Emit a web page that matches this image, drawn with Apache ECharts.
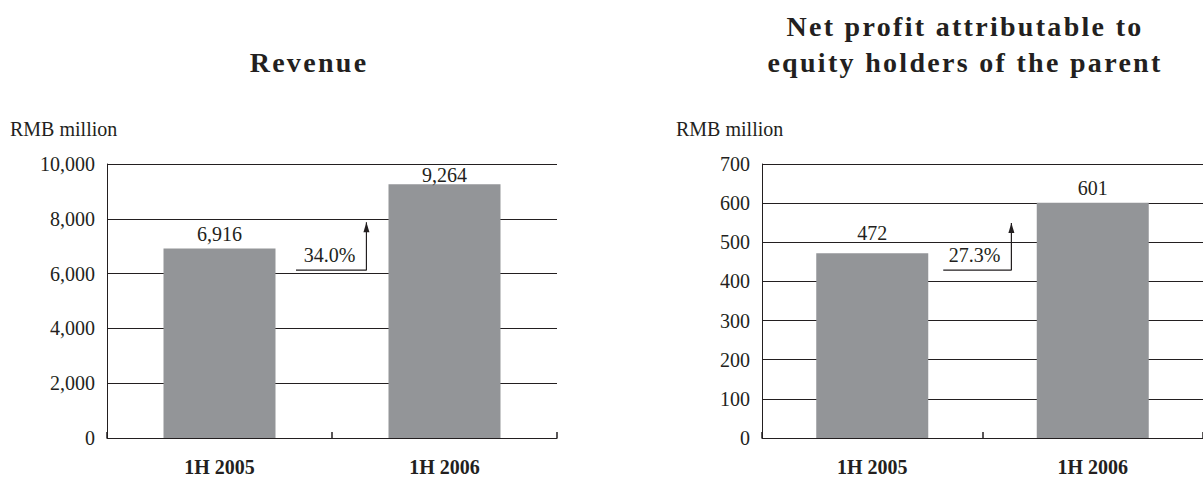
<!DOCTYPE html>
<html>
<head>
<meta charset="utf-8">
<script src="https://cdn.jsdelivr.net/npm/echarts@6/dist/echarts.min.js"></script>
<style>
  html, body { margin: 0; padding: 0; background: #fff; }
  #chart { width: 1203px; height: 477px; }
</style>
</head>
<body>
<div id="chart"></div>
<script>
// data
const categories = ['1H 2005', '1H 2006'];
const revenue = [6916, 9264];
const netProfit = [472, 601];
const revenueTicks = [0, 2000, 4000, 6000, 8000, 10000];
const profitTicks = [0, 100, 200, 300, 400, 500, 600, 700];
const growthText = ['34.0%', '27.3%'];
// growth arrows, in [category position, value] (0..2 spans both categories)
const revenueArrow = [[0.84, 6130], [1.153, 6130], [1.153, 7870]];
const profitArrow = [[0.822, 429], [1.131, 429], [1.131, 549]];

const FONT = 'Liberation Serif, Times New Roman, serif';
const INK = '#231f20';
const BAR = '#939598';
const TITLES = ['Revenue', 'Net profit attributable to', 'equity holders of the parent'];

const fmt = v => Number(v).toLocaleString('en-US');

function valueAxis(grid, ticks) {
  return {
    type: 'value',
    gridIndex: grid,
    min: ticks[0],
    max: ticks[ticks.length - 1],
    interval: ticks[1] - ticks[0],
    axisLine: { show: true, lineStyle: { color: INK, width: 1 } },
    axisTick: { show: false },
    axisLabel: { color: INK, fontFamily: FONT, fontSize: 20, margin: 12, formatter: fmt },
    splitLine: { show: true, lineStyle: { color: INK, width: 1 } }
  };
}

function catAxis(grid) {
  return {
    type: 'category',
    gridIndex: grid,
    data: categories,
    axisLine: { show: true, lineStyle: { color: INK, width: 1.2 } },
    axisTick: { show: true, inside: true, length: 6, lineStyle: { color: INK, width: 1.5 } },
    axisLabel: { color: INK, fontFamily: FONT, fontSize: 20, fontWeight: 'bold', margin: 19 }
  };
}

function helperAxis(grid) {
  return { type: 'value', gridIndex: grid, min: 0, max: 2, show: false };
}

// labelGap: space between each bar top and its value label
function bars(idx, values, labelGap) {
  return {
    type: 'bar',
    xAxisIndex: idx,
    yAxisIndex: idx,
    barWidth: 112,
    itemStyle: { color: BAR },
    label: {
      show: true, position: 'top',
      color: INK, fontFamily: FONT, fontSize: 20,
      formatter: p => fmt(p.value)
    },
    data: values.map((v, i) => ({ value: v, label: { distance: labelGap[i] } }))
  };
}

function arrow(axisIdx, yIdx, pts) {
  return {
    type: 'line',
    xAxisIndex: axisIdx,
    yAxisIndex: yIdx,
    z: 5,
    lineStyle: { color: INK, width: 1.2 },
    itemStyle: { color: INK, opacity: 1 },
    data: pts.map((p, i) => i === pts.length - 1
      ? { value: p, symbol: 'triangle', symbolSize: [6, 10], symbolOffset: [0, 5] }
      : { value: p, symbol: 'none' })
  };
}

function growthLabel(axisIdx, yIdx, pts, text) {
  return {
    type: 'scatter',
    xAxisIndex: axisIdx,
    yAxisIndex: yIdx,
    z: 6,
    symbolSize: 0,
    itemStyle: { color: INK, opacity: 1 },
    label: {
      show: true,
      position: [-11, -5],
      align: 'right',
      verticalAlign: 'bottom',
      color: INK, fontFamily: FONT, fontSize: 20,
      formatter: text
    },
    data: [pts[1]]
  };
}

function titleText(x, y, text) {
  return { type: 'text', x: x, y: y, style: { text: text, font: 'bold 28px ' + FONT, fill: INK, textAlign: 'center', textVerticalAlign: 'middle' } };
}

const chart = echarts.init(document.getElementById('chart'), null, { renderer: 'svg' });
chart.setOption({
  animation: false,
  backgroundColor: '#fff',
  graphic: [
    titleText(309, 62, TITLES[0]),
    titleText(965, 26, TITLES[1]),
    titleText(965, 62, TITLES[2]),
    { type: 'text', x: 10, y: 129, style: { text: 'RMB million', font: '20px ' + FONT, fill: INK, textVerticalAlign: 'middle' } },
    { type: 'text', x: 676, y: 129, style: { text: 'RMB million', font: '20px ' + FONT, fill: INK, textVerticalAlign: 'middle' } }
  ],
  grid: [
    { left: 107, top: 164, width: 450, height: 275 },
    { left: 762, top: 164, width: 451, height: 275 }
  ],
  xAxis: [catAxis(0), catAxis(1), helperAxis(0), helperAxis(1)],
  yAxis: [valueAxis(0, revenueTicks), valueAxis(1, profitTicks)],
  series: [
    bars(0, revenue, [5, -1]),
    bars(1, netProfit, [10, 5]),
    arrow(2, 0, revenueArrow),
    arrow(3, 1, profitArrow),
    growthLabel(2, 0, revenueArrow, growthText[0]),
    growthLabel(3, 1, profitArrow, growthText[1])
  ]
});

// serif everywhere; titles are letter-spaced in the original
function fixText() {
  document.querySelectorAll('#chart text').forEach(t => {
    t.style.fontFamily = '"Liberation Serif", "Times New Roman", serif';
    if (TITLES.indexOf(t.textContent) >= 0) t.style.letterSpacing = '2.3px';
  });
}
chart.on('finished', fixText);
fixText();
</script>
</body>
</html>
